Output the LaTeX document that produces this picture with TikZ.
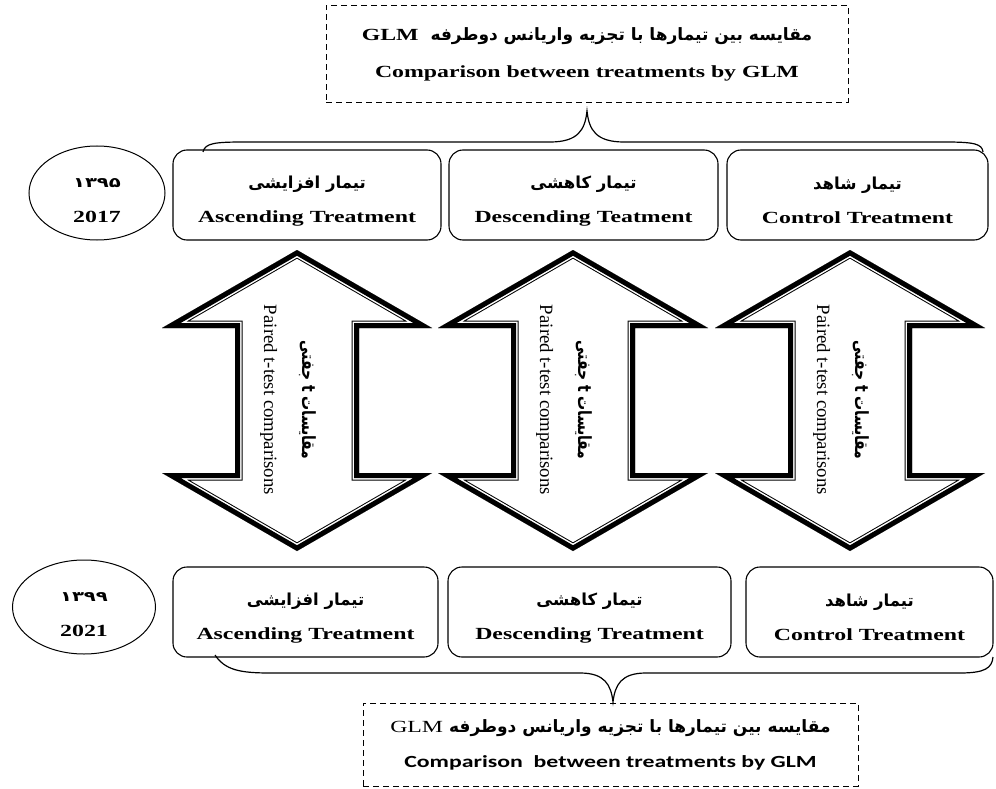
\documentclass[tikz,border=0pt]{standalone}
\usepackage{fontspec}
\setmainfont{Liberation Serif}
\newfontfamily\fafont[Script=Arabic]{DejaVu Sans}
\newfontfamily\calfont{Carlito}
\usetikzlibrary{shapes.geometric,positioning}
\TeXXeTstate=1

\newcommand{\fa}[1]{{\fafont\beginR #1\endR}}
\newcommand{\fabox}[1]{{\fontsize{16.5}{34}\selectfont\fa{#1}}}
\newcommand{\wide}[1]{\scalebox{1.4}[1]{#1}}
\newcommand{\tall}[1]{\scalebox{1}[1.3]{#1}}
\newcommand{\strutup}{\rule{0pt}{24pt}}
\newcommand{\dblarrow}[1]{(#1,250) -- (#1+135,328) -- (#1+62,328) -- (#1+62,473)
  -- (#1+135,473) -- (#1,551) -- (#1-135,473) -- (#1-62,473) -- (#1-62,328)
  -- (#1-135,328) -- cycle}

\tikzset{
  box/.style={draw, rounded corners=14pt, line width=1.1pt, minimum height=90,
    align=center, font=\bfseries\fontsize{17}{34}\selectfont},
  glmbox/.style={draw, dash pattern=on 6pt off 4pt, line width=1pt, align=center},
  yearnode/.style={draw, ellipse, line width=1pt, minimum height=94, align=center,
    font=\bfseries\fontsize{17}{35}\selectfont},
  brace/.style={line width=1.2pt},
  pairtext/.style={rotate=-90, align=center, font=\fontsize{18.8}{38}\selectfont}
}

\begin{document}
\begin{tikzpicture}[x=1pt, y=-1pt]
\useasboundingbox (0,0) rectangle (996,789);

% GLM comparison, top and bottom
\node[glmbox, minimum width=522, minimum height=97,
  font=\bfseries\fontsize{17}{37}\selectfont] (glm1) at (587,54)
  {\fa{مقایسه بین تیمارها با تجزیه واریانس دوطرفه\ \ \beginL\rmfamily\wide{GLM}\endL}\\
   \wide{Comparison between treatments by GLM}};
\node[glmbox, minimum width=495, minimum height=83,
  font=\fontsize{17}{35}\selectfont] (glm2) at (610.5,744.5)
  {\fa{\bfseries مقایسه بین تیمارها با تجزیه واریانس دوطرفه \beginL\rmfamily\mdseries\wide{GLM}\endL}\\
   \wide{\calfont\bfseries Comparison\ \ between treatments by GLM}};

% years
\node[yearnode, minimum width=136] (y1) at (97,193)
  {\strutup\wide{\fontsize{14}{35}\selectfont\fafont ۱۳۹۵}\\\wide{2017}};
\node[yearnode, minimum width=143] (y2) at (84,607)
  {\strutup\wide{\fontsize{14}{35}\selectfont\fafont ۱۳۹۹}\\\wide{2021}};

% treatments 1395
\node[box, minimum width=268] (asc1) at (307,195)
  {\strutup\fabox{تیمار افزایشی}\\\wide{Ascending Treatment}};
\node[box, minimum width=269] (desc1) at (583.5,195)
  {\strutup\fabox{تیمار کاهشی}\\\wide{Descending Teatment}};
\node[box, minimum width=261] (ctrl1) at (857.5,195)
  {\strutup\fabox{تیمار شاهد}\\\wide{Control Treatment}};

% treatments 1399
\node[box, minimum width=265] (asc2) at (305.5,612)
  {\strutup\fabox{تیمار افزایشی}\\\wide{Ascending Treatment}};
\node[box, minimum width=283] (desc2) at (589.5,612)
  {\strutup\fabox{تیمار کاهشی}\\\wide{Descending Treatment}};
\node[box, minimum width=247] (ctrl2) at (869.5,612)
  {\strutup\fabox{تیمار شاهد}\\\wide{Control Treatment}};

% braces
\draw[brace] (203,152) .. controls (205,143) and (215,142) .. (245,142) -- (550,142)
  .. controls (578,142) and (585,130) .. (587,111)
  .. controls (589,130) and (596,142) .. (624,142) -- (945,142)
  .. controls (975,142) and (982,144) .. (983,152);
\draw[brace] (215,655) .. controls (225,670) and (240,673) .. (270,673) -- (580,673)
  .. controls (605,673) and (611,685) .. (613,702)
  .. controls (615,685) and (621,673) .. (646,673) -- (960,673)
  .. controls (985,673) and (992,668) .. (993,657);

% paired t-test arrows
\foreach \cx/\nm in {297/pa, 573/pb, 850/pc}{
  \begin{scope}
    \clip \dblarrow{\cx};
    \fill[white] \dblarrow{\cx};
    \draw[line width=15pt] \dblarrow{\cx};
    \draw[white, line width=13pt] \dblarrow{\cx};
    \draw[line width=10pt] \dblarrow{\cx};
  \end{scope}
  \node[pairtext] (\nm) at (\cx-9,400)
    {\tall{\fontsize{14}{38}\selectfont\fa{\bfseries مقایسات \beginL t\endL{} جفتی}}\\
     Paired t-test comparisons};
}
\end{tikzpicture}
\end{document}
